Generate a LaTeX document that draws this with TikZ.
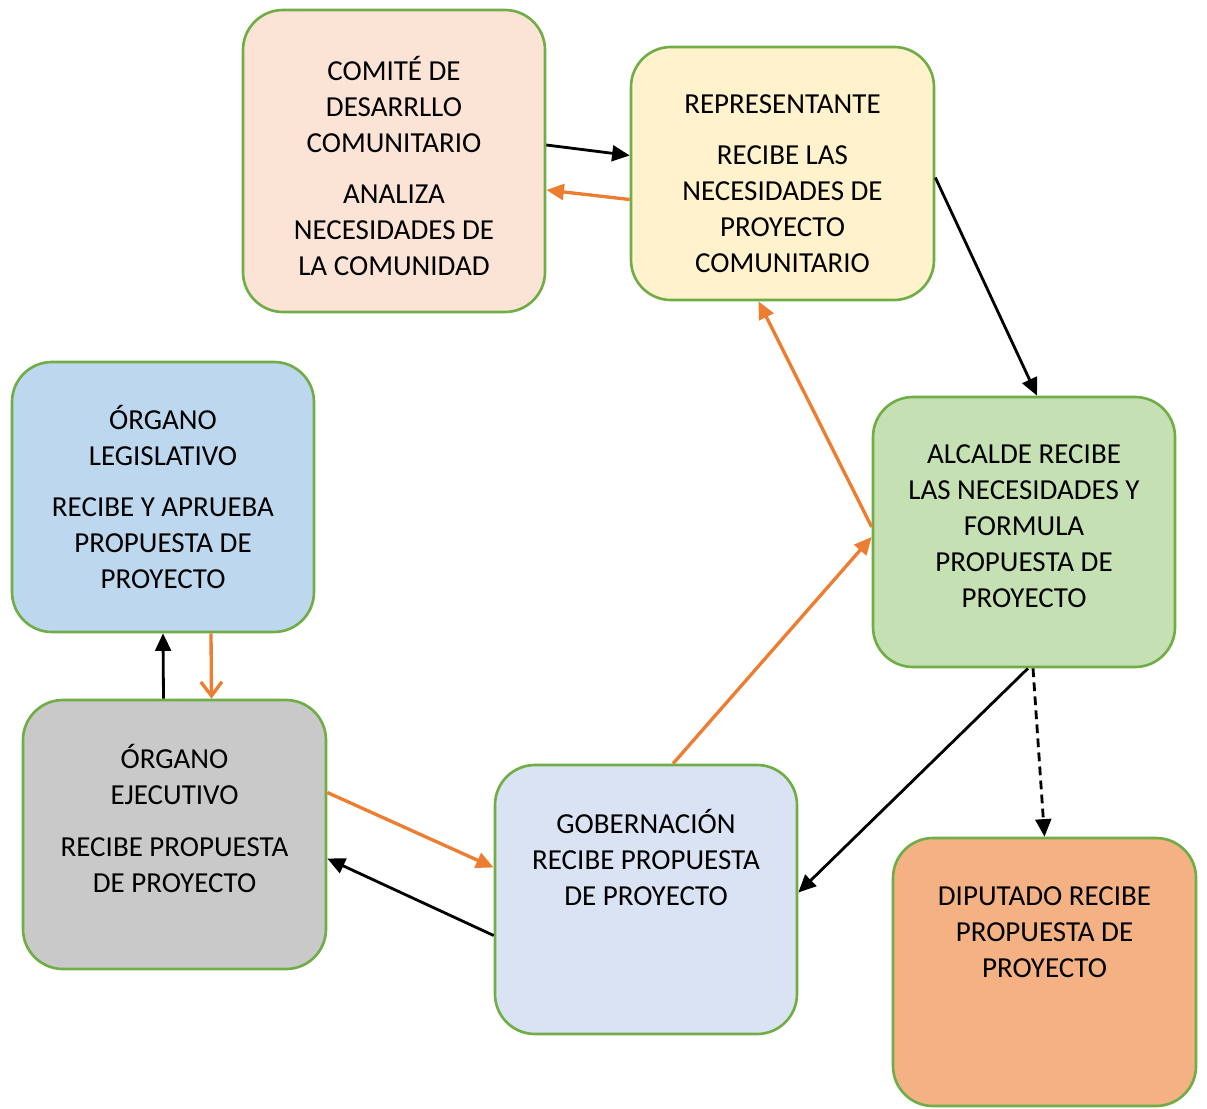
\documentclass[tikz,border=0pt]{standalone}
\usepackage{fontspec}
\setmainfont{Carlito}
\usetikzlibrary{arrows.meta}
\definecolor{borde}{HTML}{70AD47}
\definecolor{naranja}{HTML}{ED7D31}
\definecolor{cComite}{HTML}{FBE4D5}
\definecolor{cRepre}{HTML}{FFF2CC}
\definecolor{cAlcalde}{HTML}{C5E0B3}
\definecolor{cDiputado}{HTML}{F4B183}
\definecolor{cGober}{HTML}{DAE3F3}
\definecolor{cEjecutivo}{HTML}{C9C9C9}
\definecolor{cLegis}{HTML}{BDD7EE}
\begin{document}
\begin{tikzpicture}[
    caja/.style={draw=borde,line width=1.5pt,rounded corners=0.8cm,minimum width=6.04cm,minimum height=5.38cm},
    texto/.style={align=center,font=\fontsize{16.5}{20.4}\selectfont},
    flecha/.style={line width=1.6pt,-{Triangle[length=10pt,width=9pt]}},
    flechaN/.style={flecha,naranja,line width=1.9pt}]
\useasboundingbox (0,0) rectangle (24.14,-22.18);

\node[caja,fill=cComite,minimum height=6.04cm] (com) at (7.88,-3.22) {};
\node[caja,fill=cRepre,minimum width=6.06cm,minimum height=5.06cm] (rep) at (15.65,-3.47) {};
\node[caja,fill=cAlcalde,minimum height=5.4cm] (alc) at (20.48,-10.64) {};
\node[caja,fill=cDiputado,minimum width=6.06cm,minimum height=5.36cm] (dip) at (20.89,-19.44) {};
\node[caja,fill=cGober] (gob) at (12.92,-17.99) {};
\node[caja,fill=cEjecutivo,minimum width=6.06cm] (eje) at (3.49,-16.69) {};
\node[caja,fill=cLegis,minimum height=5.4cm] (leg) at (3.26,-9.94) {};

\node[texto] (comT) at ([yshift=-0.1cm]com.center) {COMITÉ DE\\DESARRLLO\\COMUNITARIO\\[9pt]ANALIZA\\NECESIDADES DE\\LA COMUNIDAD};
\node[texto] (repT) at ([yshift=-0.2cm]rep.center) {REPRESENTANTE\\[9pt]RECIBE LAS\\NECESIDADES DE\\PROYECTO\\COMUNITARIO};
\node[texto] (alcT) at ([yshift=0.12cm]alc.center) {ALCALDE RECIBE\\LAS NECESIDADES Y\\FORMULA\\PROPUESTA DE\\PROYECTO};
\node[texto] (dipT) at ([yshift=0.8cm]dip.center) {DIPUTADO RECIBE\\PROPUESTA DE\\PROYECTO};
\node[texto] (gobT) at ([yshift=0.84cm]gob.center) {GOBERNACIÓN\\RECIBE PROPUESTA\\DE PROYECTO};
\node[texto] (ejeT) at ([yshift=0.32cm]eje.center) {ÓRGANO\\EJECUTIVO\\[9pt]RECIBE PROPUESTA\\DE PROYECTO};
\node[texto] (legT) at (leg.center) {ÓRGANO\\LEGISLATIVO\\[9pt]RECIBE Y APRUEBA\\PROPUESTA DE\\PROYECTO};

\draw[flecha] ([yshift=0.32cm]com.east) -- ([yshift=0.36cm]rep.west);
\draw[flechaN] ([yshift=-0.52cm]rep.west) -- ([yshift=-0.58cm]com.east);
\draw[flecha] ([yshift=-0.08cm]rep.east) -- ([xshift=0.26cm]alc.north);
\draw[flechaN] ([yshift=0.1cm]alc.west) -- ([xshift=-0.48cm]rep.south);
\draw[flechaN] ([xshift=0.54cm]gob.north) -- ([yshift=-0.1cm]alc.west);
\draw[flecha] ([xshift=0.08cm]alc.south) -- ([yshift=0.14cm]gob.east);
\draw[flecha,dash pattern=on 5pt off 3pt] ([xshift=0.18cm]alc.south) -- (dip.north);
\draw[flechaN] ([yshift=0.84cm]eje.east) -- ([yshift=0.64cm]gob.west);
\draw[flecha] ([yshift=-0.72cm]gob.west) -- ([yshift=-0.48cm]eje.east);
\draw[flecha] ([xshift=-0.22cm]eje.north) -- ([xshift=0cm]leg.south);
\draw[naranja,line width=1.9pt,-{Straight Barb[length=8pt,width=12pt]}] ([xshift=0.96cm]leg.south) -- ([xshift=0.74cm]eje.north);
\end{tikzpicture}
\end{document}
